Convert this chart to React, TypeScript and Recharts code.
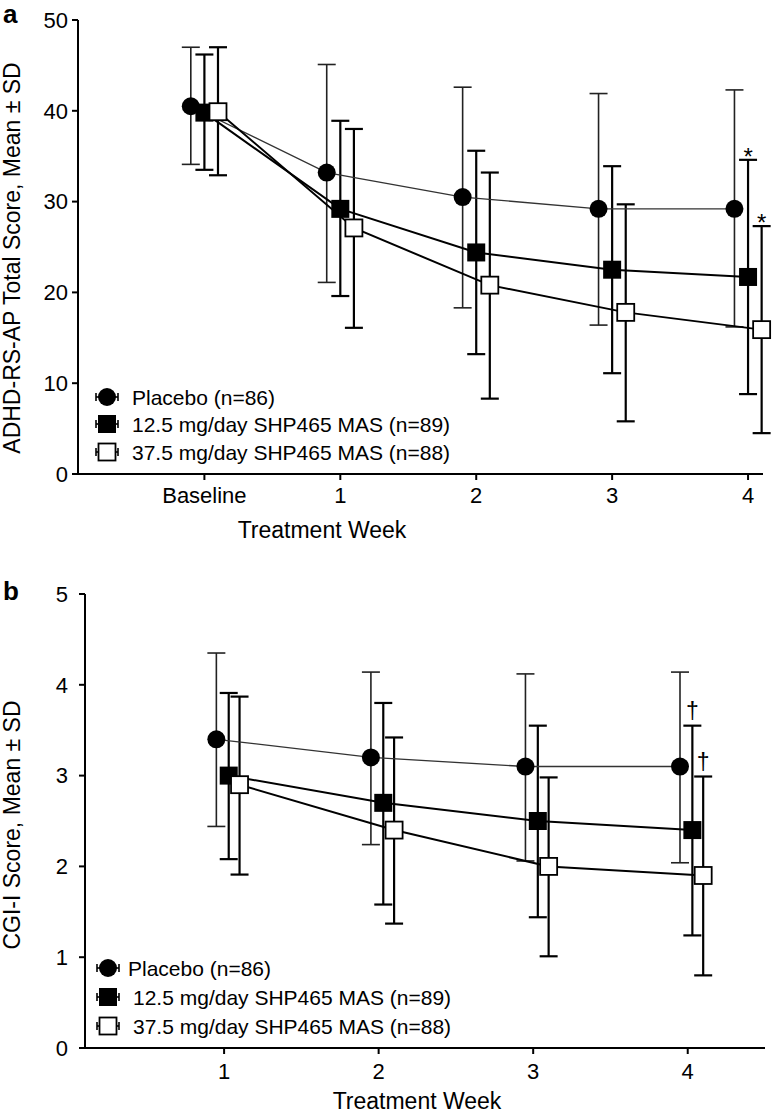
import { ScatterChart, Scatter, XAxis, YAxis, ErrorBar, Legend } from 'recharts';

const FONT = '"Liberation Sans", Arial, Helvetica, sans-serif';

const seriesNames = ['Placebo (n=86)', '12.5 mg/day SHP465 MAS (n=89)', '37.5 mg/day SHP465 MAS (n=88)'];

// panel a: ADHD-RS-AP total score, mean ± SD
const weeksA = [0, 1, 2, 3, 4];
const weekLabelsA = ['Baseline', '1', '2', '3', '4'];
const yTicksA = [0, 10, 20, 30, 40, 50];
const placeboA = [40.5, 33.2, 30.5, 29.2, 29.2];
const placeboAHi = [47.0, 45.1, 42.6, 41.9, 42.3];
const placeboALo = [34.1, 21.1, 18.3, 16.4, 16.2];
const dose125A = [39.8, 29.2, 24.4, 22.5, 21.7];
const dose125AHi = [46.2, 38.9, 35.6, 33.9, 34.6];
const dose125ALo = [33.5, 19.6, 13.2, 11.1, 8.8];
const dose375A = [39.9, 27.1, 20.8, 17.8, 15.9];
const dose375AHi = [47.0, 38.0, 33.2, 29.7, 27.3];
const dose375ALo = [32.9, 16.1, 8.3, 5.8, 4.5];
const marksA = ['*', '*'];

// panel b: CGI-I score, mean ± SD
const weeksB = [1, 2, 3, 4];
const yTicksB = [0, 1, 2, 3, 4, 5];
const placeboB = [3.4, 3.2, 3.1, 3.1];
const placeboBHi = [4.35, 4.14, 4.12, 4.14];
const placeboBLo = [2.44, 2.24, 2.06, 2.04];
const dose125B = [3.0, 2.7, 2.5, 2.4];
const dose125BHi = [3.91, 3.8, 3.55, 3.55];
const dose125BLo = [2.08, 1.58, 1.44, 1.24];
const dose375B = [2.9, 2.4, 2.0, 1.9];
const dose375BHi = [3.87, 3.42, 2.98, 2.99];
const dose375BLo = [1.91, 1.37, 1.01, 0.8];
const marksB = ['†', '†'];

// horizontal nudge of the three groups around each week
const dodgeA = [-0.1, 0, 0.1];
const dodgeB = [-0.05, 0.03, 0.1];

type Pt = { x: number; y: number; err: [number, number] };

function toPoints(xs: number[], mean: number[], hi: number[], lo: number[], dx: number): Pt[] {
  return xs.map((x, i) => ({ x: x + dx, y: mean[i], err: [mean[i] - lo[i], hi[i] - mean[i]] }));
}

const dot = (p: any) => <circle cx={p.cx} cy={p.cy} r={9} fill="#000" />;
const solidSquare = (p: any) => <rect x={p.cx - 9} y={p.cy - 9} width={18} height={18} fill="#000" />;
const openSquare = (p: any) => (
  <rect x={p.cx - 8.5} y={p.cy - 8.5} width={17} height={17} fill="#fff" stroke="#000" strokeWidth={1.8} />
);
const noShape = () => <g />;
const markers = [dot, solidSquare, openSquare];

const lineStyles = [
  { stroke: '#333', strokeWidth: 1.3 },
  { stroke: '#000', strokeWidth: 2 },
  { stroke: '#000', strokeWidth: 2 },
];
const barStyles = [
  { stroke: '#222', strokeWidth: 1.6 },
  { stroke: '#000', strokeWidth: 2.2 },
  { stroke: '#000', strokeWidth: 2.2 },
];

const starShape = (p: any) => (
  <text x={p.cx} y={p.cy} dy={5} textAnchor="middle" fontSize={24} fontFamily={FONT} fill="#000">
    {p.payload.mark}
  </text>
);
const daggerShape = (p: any) => (
  <text x={p.cx} y={p.cy} dy={-7} textAnchor="middle" fontSize={23} fontFamily={FONT} fill="#000">
    {p.payload.mark}
  </text>
);

const axisStyle = { stroke: '#000', strokeWidth: 2 };
const tickStyle = { fill: '#000', fontSize: 22, fontFamily: FONT };

function KeyBlock({ x, textX, rowY }: { x: number; textX: number[]; rowY: number[] }) {
  return (
    <svg width={520} height={rowY[2] + 16} style={{ display: 'block', overflow: 'visible' }}>
      {seriesNames.map((name, i) => (
        <g key={name}>
          <line x1={x - 11} x2={x + 11} y1={rowY[i]} y2={rowY[i]} stroke="#000" strokeWidth={1.6} />
          <line x1={x - 11} x2={x - 11} y1={rowY[i] - 4} y2={rowY[i] + 4} stroke="#000" strokeWidth={1.6} />
          <line x1={x + 11} x2={x + 11} y1={rowY[i] - 4} y2={rowY[i] + 4} stroke="#000" strokeWidth={1.6} />
          {markers[i]({ cx: x, cy: rowY[i] })}
          <text x={textX[i]} y={rowY[i]} dy="0.36em" fontSize={21} fontFamily={FONT} fill="#000">
            {name}
          </text>
        </g>
      ))}
    </svg>
  );
}

// lines + error bars first, markers afterwards so they sit on top
function seriesLayers(pts: Pt[][]) {
  return [
    ...pts.map((d, i) => (
      <Scatter key={`bars${i}`} data={d} shape={noShape} line={lineStyles[i]} lineType="joint" isAnimationActive={false}>
        <ErrorBar dataKey="err" direction="y" width={9} {...barStyles[i]} isAnimationActive={false} />
      </Scatter>
    )),
    ...pts.map((d, i) => (
      <Scatter key={`marks${i}`} data={d} shape={markers[i]} isAnimationActive={false} zIndex={2000} />
    )),
  ];
}

function PanelA() {
  const pts = [
    toPoints(weeksA, placeboA, placeboAHi, placeboALo, dodgeA[0]),
    toPoints(weeksA, dose125A, dose125AHi, dose125ALo, dodgeA[1]),
    toPoints(weeksA, dose375A, dose375AHi, dose375ALo, dodgeA[2]),
  ];
  const last = weeksA.length - 1;
  const notes = [
    { x: weeksA[last] + dodgeA[1], y: dose125AHi[last], mark: marksA[0] },
    { x: weeksA[last] + dodgeA[2], y: dose375AHi[last], mark: marksA[1] },
  ];
  return (
    <ScatterChart width={775} height={545} margin={{ top: 20, right: 12, bottom: 0, left: 0 }}>
      <XAxis
        type="number"
        dataKey="x"
        domain={[-0.93, 4.11]}
        ticks={weeksA}
        tickFormatter={(v: number) => weekLabelsA[weeksA.indexOf(v)]}
        interval={0}
        height={71}
        axisLine={axisStyle}
        tickLine={axisStyle}
        tickSize={6}
        tickMargin={7}
        tick={tickStyle}
        label={() => (
          <text x={322} y={538} textAnchor="middle" fontSize={23} fontFamily={FONT} fill="#000">
            Treatment Week
          </text>
        )}
      />
      <YAxis
        type="number"
        dataKey="y"
        domain={[0, 50]}
        ticks={yTicksA}
        interval={0}
        width={78}
        axisLine={axisStyle}
        tickLine={axisStyle}
        tickSize={6}
        tickMargin={4}
        tick={tickStyle}
        label={() => (
          <g>
            <text x={3} y={23} fontSize={26} fontWeight="bold" fontFamily={FONT} fill="#000">
              a
            </text>
            <text
              x={20}
              y={258}
              transform="rotate(-90 20 258)"
              textAnchor="middle"
              fontSize={23}
              fontFamily={FONT}
              fill="#000"
            >
              ADHD-RS-AP Total Score, Mean ± SD
            </text>
          </g>
        )}
      />
      {seriesLayers(pts)}
      <Scatter data={notes} shape={starShape} isAnimationActive={false} />
      <Legend
        layout="vertical"
        align="center"
        verticalAlign="middle"
        wrapperStyle={{ left: 0, top: 383, width: 520, height: 90 }}
        content={() => <KeyBlock x={107} textX={[132, 132, 132]} rowY={[14, 41, 69]} />}
      />
    </ScatterChart>
  );
}

function PanelB() {
  const pts = [
    toPoints(weeksB, placeboB, placeboBHi, placeboBLo, dodgeB[0]),
    toPoints(weeksB, dose125B, dose125BHi, dose125BLo, dodgeB[1]),
    toPoints(weeksB, dose375B, dose375BHi, dose375BLo, dodgeB[2]),
  ];
  const last = weeksB.length - 1;
  const notes = [
    { x: weeksB[last] + dodgeB[1], y: dose125BHi[last], mark: marksB[0] },
    { x: weeksB[last] + dodgeB[2], y: dose375BHi[last], mark: marksB[1] },
  ];
  return (
    <ScatterChart width={775} height={553} margin={{ top: 34, right: 10, bottom: 0, left: 0 }}>
      <XAxis
        type="number"
        dataKey="x"
        domain={[0.1, 4.5]}
        ticks={weeksB}
        interval={0}
        height={65}
        axisLine={axisStyle}
        tickLine={axisStyle}
        tickSize={6}
        tickMargin={9}
        tick={tickStyle}
        label={() => (
          <text x={417} y={549} textAnchor="middle" fontSize={23} fontFamily={FONT} fill="#000">
            Treatment Week
          </text>
        )}
      />
      <YAxis
        type="number"
        dataKey="y"
        domain={[0, 5]}
        ticks={yTicksB}
        interval={0}
        width={85}
        axisLine={axisStyle}
        tickLine={axisStyle}
        tickSize={6}
        tickMargin={11}
        tick={tickStyle}
        label={() => (
          <g>
            <text x={3} y={40} fontSize={26} fontWeight="bold" fontFamily={FONT} fill="#000">
              b
            </text>
            <text
              x={20}
              y={265}
              transform="rotate(-90 20 265)"
              textAnchor="middle"
              fontSize={23}
              fontFamily={FONT}
              fill="#000"
            >
              CGI-I Score, Mean ± SD
            </text>
          </g>
        )}
      />
      {seriesLayers(pts)}
      <Scatter data={notes} shape={daggerShape} isAnimationActive={false} />
      <Legend
        layout="vertical"
        align="center"
        verticalAlign="middle"
        wrapperStyle={{ left: 0, top: 394, width: 520, height: 90 }}
        content={() => <KeyBlock x={108} textX={[128, 133, 133]} rowY={[14, 43, 72]} />}
      />
    </ScatterChart>
  );
}

export default function App() {
  return (
    <div style={{ position: 'absolute', left: 0, top: 0, width: 775, height: 1113, background: '#fff' }}>
      <div style={{ position: 'absolute', left: 0, top: 0 }}>
        <PanelA />
      </div>
      <div style={{ position: 'absolute', left: 0, top: 560 }}>
        <PanelB />
      </div>
    </div>
  );
}
